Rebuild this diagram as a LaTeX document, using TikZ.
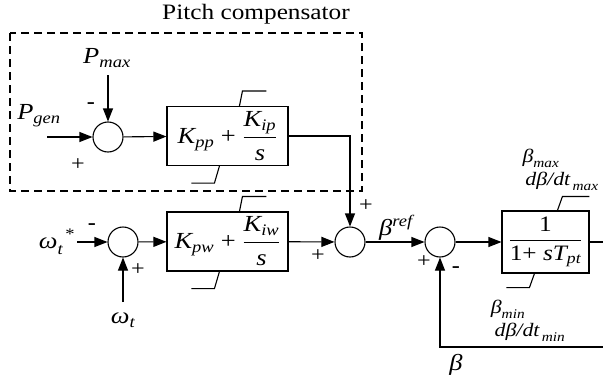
\documentclass[tikz,border=0pt]{standalone}
\usepackage{amsmath}
\usepackage{fontspec}
\setmainfont{Liberation Serif}[FakeStretch=1.15]
\usepackage{tikz}
\usetikzlibrary{arrows.meta,calc}
\newcommand{\ti}[1]{\text{\itshape #1}}

\begin{document}
\begin{tikzpicture}[x=1pt, y=-1pt, line width=1.1pt, line join=miter,
  sum/.style={draw, circle, minimum size=30pt, inner sep=0pt},
  block/.style={draw, minimum width=121pt, minimum height=59pt, inner sep=0pt},
  lbl/.style={inner sep=0pt, font=\fontsize{23}{26}\selectfont},
  small/.style={inner sep=0pt, font=\fontsize{19}{21}\selectfont},
  sgn/.style={inner sep=0pt, font=\fontsize{21}{23}\selectfont},
  sig/.style={-{Triangle[length=13pt,width=10pt]}}]
  \useasboundingbox (0,0) rectangle (603,375);

  % pitch compensator frame
  \draw[dash pattern=on 8pt off 5pt] (10,33) rectangle (362,191);
  \node[inner sep=0pt, font=\fontsize{22}{24}\selectfont] (title) at (256,14) {Pitch compensator};

  % summing points
  \node[sum] (sum1) at (108,137) {};
  \node[sum] (sum2) at (123,242) {};
  \node[sum] (sum3) at (350,242) {};
  \node[sum] (sum4) at (440,242) {};

  % PI blocks and actuator
  \node[block, font=\fontsize{23}{26}\selectfont] (pic) at (227.5,136)
    {$\ti{K}_{\ti{pp}}\text{ + }\dfrac{\ti{K}_{\ti{ip}}}{\ti{s}}$};
  \node[block, font=\fontsize{23}{26}\selectfont] (piw) at (227.5,241.5)
    {$\ti{K}_{\ti{pw}}\text{ + }\dfrac{\ti{K}_{\ti{iw}}}{\ti{s}}$};
  \node[draw, minimum width=87pt, minimum height=62pt, inner sep=0pt,
    font=\fontsize{22}{24}\selectfont] (act) at (545.5,242)
    {$\dfrac{\text{1}}{\text{1+ }\ti{sT}_{\ti{pt}}}$};

  % limiter marks
  \draw ($(pic.north west)+(73,0)$) -- ++(3,-15) -- ++(24,0);
  \draw ($(pic.south west)+(53,0)$) -- ++(-5,17) -- ++(-23,0);
  \draw ($(piw.north west)+(73,0)$) -- ++(3,-15) -- ++(24,0);
  \draw ($(piw.south west)+(53,0)$) -- ++(-5,17) -- ++(-23,0);
  \draw ($(act.north west)+(56,0)$) -- ++(5,-14) -- ++(27,0);
  \draw ($(act.south west)+(33,0)$) -- ++(-5,14) -- ++(-23,0);

  % inputs
  \node[lbl] (pmax) at (107,58) {$\ti{P}_{\ti{max}}$};
  \node[lbl] (pgen) at (39,116) {$\ti{P}_{\ti{gen}}$};
  \node[lbl] (wref) at (57,242) {$\ti{ω}_{\ti{t}}^{\;\,\text{*}}$};
  \node[lbl] (wmeas) at (123,320) {$\ti{ω}_{\ti{t}}$};
  \coordinate (pmaxin) at (108,75);
  \coordinate (pgenin) at (47,137);
  \coordinate (wrefin) at (77,242);
  \coordinate (wmeasin) at (123,302);
  \coordinate (out) at (603,242);
  \coordinate (fb) at (603,347);

  % signals
  \draw[sig] (pmaxin) -- (sum1.north);
  \draw[sig] (pgenin) -- (sum1.west);
  \draw[sig] (sum1) -- (pic);
  \draw[sig] (pic.east) -| (sum3.north);
  \draw[sig] (wrefin) -- (sum2.west);
  \draw[sig] (wmeasin) -- (sum2.south);
  \draw[sig] (sum2) -- (piw);
  \draw[sig] (piw) -- (sum3);
  \draw[sig] (sum3) -- (sum4);
  \draw[sig] (sum4) -- (act);
  \draw (act.east) -- (out);
  \draw[sig] (fb) -| (sum4.south);

  % signs
  \node[sgn] at (91,106) {\textbf{-}};
  \node[sgn] at (78,165) {+};
  \node[sgn] at (92,227) {\textbf{-}};
  \node[sgn] at (138,270) {+};
  \node[sgn] at (318,256) {+};
  \node[sgn] at (366,206) {+};
  \node[sgn] at (424,262) {+};
  \node[sgn] at (456,270) {\textbf{-}};

  % other labels
  \node[lbl] (bref) at (396,228) {$\ti{β}^{\ti{ref}}$};
  \node[lbl] (beta) at (456,365) {$\ti{β}$};
  \node[small] (bmax) at (541,158) {$\ti{β}_{\ti{max}}$};
  \node[small] (rmax) at (562,181) {$\ti{dβ/dt}_{\,\ti{max}}$};
  \node[small] (bmin) at (508,309) {$\ti{β}_{\ti{min}}$};
  \node[small] (rmin) at (530,332) {$\ti{dβ/dt}_{\,\ti{min}}$};
\end{tikzpicture}
\end{document}
